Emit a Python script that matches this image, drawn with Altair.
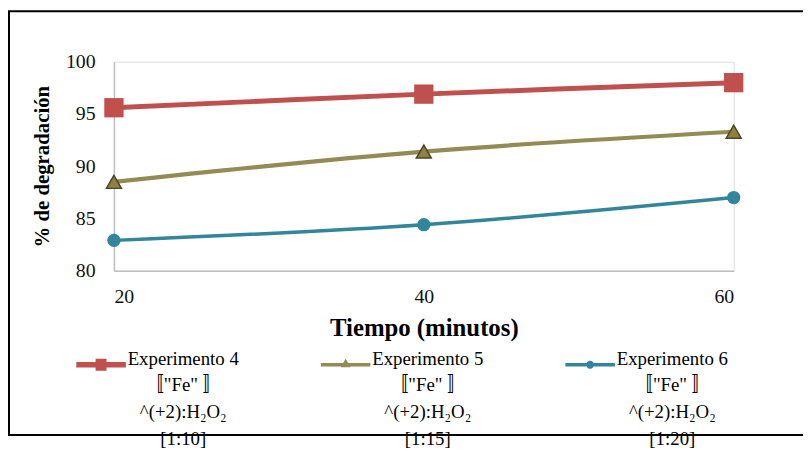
import altair as alt
import pandas as pd

times = [20, 40, 60]
exp4 = [95.6, 96.9, 98.0]
exp5 = [88.5, 91.4, 93.3]
exp6 = [82.9, 84.4, 87.0]
names = ["Experimento 4", "Experimento 5", "Experimento 6"]
ratios = ["[1:10]", "[1:15]", "[1:20]"]
colors = ["#c0504d", "#948a54", "#31859c"]
y_ticks = [80, 85, 90, 95, 100]
x_ticks = [20, 40, 60]

middle = ["〚\"Fe\" 〛", "^(+2):H₂O₂"]
keys = ["|".join([n] + middle + [r]) for n, r in zip(names, ratios)]

rows = []
for k, vals in zip(keys, [exp4, exp5, exp6]):
    for t, v in zip(times, vals):
        rows.append({"t": t, "v": v, "serie": k})
df = pd.DataFrame(rows)

FONT = "Liberation Serif"

x_enc = alt.X("t:Q", scale=alt.Scale(domain=[20, 60], nice=False, zero=False),
              axis=alt.Axis(values=x_ticks, title="Tiempo (minutos)", grid=False, ticks=False,
                            domainColor="#bfbfbf", domainWidth=1.5, labelFont=FONT, labelFontSize=20,
                            labelColor="#111", labelPadding=16, titleFont=FONT, titleFontSize=25,
                            titleFontWeight="bold", titleColor="#000", titlePadding=9, format="d"))
y_enc = alt.Y("v:Q", scale=alt.Scale(domain=[80, 100], nice=False, zero=False),
              axis=alt.Axis(values=y_ticks, title="% de degradación", grid=False, ticks=False,
                            domainColor="#bfbfbf", domainWidth=1.5, labelFont=FONT, labelFontSize=20,
                            labelColor="#111", labelPadding=19, titleFont=FONT, titleFontSize=21,
                            titleFontWeight="bold", titleColor="#000", titlePadding=13, format="d"))

color_scale = alt.Scale(domain=keys, range=colors)

legend_paths = [
    "M-1,-0.11H1V0.11H-1Z M-0.22,-0.24H0.22V0.24H-0.22Z",
    "M-1,-0.07H1V0.07H-1Z M0,-0.24L0.2,0.1L-0.2,0.1Z",
    "M-1,-0.07H1V0.07H-1Z M-0.16,0A0.16,0.16 0 1,1 0.16,0A0.16,0.16 0 1,1 -0.16,0Z",
]

lines = alt.Chart(df).mark_line(interpolate="catmull-rom").encode(
    x=x_enc, y=y_enc,
    color=alt.Color("serie:N", scale=color_scale, legend=None),
    strokeWidth=alt.StrokeWidth("serie:N", scale=alt.Scale(domain=keys, range=[5, 3.5, 4]), legend=None),
)

shape_list = ["square", "triangle-up", "circle"]
size_list = [380, 230, 180]
fill_list = ["#c0504d", "#8b8244", "#31859c"]
stroke_list = ["#c0504d", "#4a4522", "#31859c"]
point_layers = []
for k, shp, sz, fc, sc in zip(keys, shape_list, size_list, fill_list, stroke_list):
    point_layers.append(
        alt.Chart(df).transform_filter(alt.datum.serie == k).mark_point(
            shape=shp, size=sz, filled=True, opacity=1, fill=fc, stroke=sc,
            strokeWidth=1.5 if shp == "triangle-up" else 0
        ).encode(x=x_enc, y=y_enc)
    )

leg = alt.Legend(
    title=None, orient="none", legendX=-38, legendY=281, direction="horizontal",
    columns=3, symbolSize=2500, symbolOpacity=1, symbolStrokeWidth=0,
    labelFont="'Liberation Serif', 'Noto Sans CJK JP', serif", labelFontSize=19,
    labelColor="#000", labelLimit=400,
    labelExpr="split(datum.label, '|')", labelOffset=58, labelAlign="center",
    columnPadding=82, labelBaseline="alphabetic", gridAlign="all", padding=0,
)

legend_layer = alt.Chart(df).mark_point(filled=True, opacity=0).encode(
    x=x_enc, y=y_enc,
    shape=alt.Shape("serie:N", scale=alt.Scale(domain=keys, range=legend_paths), legend=leg),
    color=alt.Color("serie:N", scale=color_scale, legend=leg),
)

frame = alt.Chart(alt.Data(values=[{"a": 1}])).mark_rect(
    filled=False, stroke="#000", strokeWidth=2
).encode(x=alt.value(-106), x2=alt.value(720), y=alt.value(-51), y2=alt.value(377))

chart = alt.layer(frame, lines, *point_layers, legend_layer).resolve_scale(
    color="independent", shape="independent"
).properties(
    width=626, height=211,
    autosize=alt.AutoSizeParams(type="none"),
    padding={"left": 107, "top": 52, "right": 70, "bottom": 195},
).configure_view(stroke=None).configure(
    style={"guide-label": {"lineHeight": 27}}
)

chart.save("out.html", embed_options={"renderer": "svg", "actions": False})
